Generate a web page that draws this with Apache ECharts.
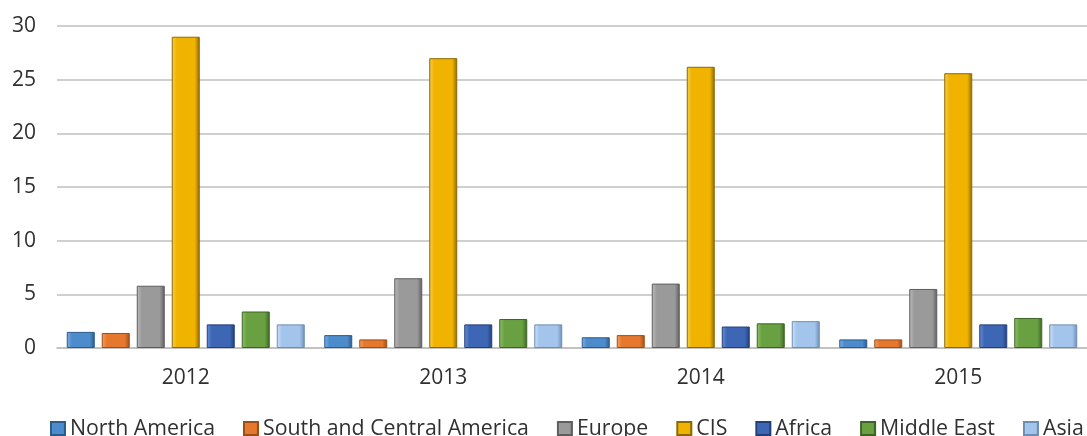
<!DOCTYPE html>
<html>
<head>
<meta charset="utf-8">
<script src="https://cdn.jsdelivr.net/npm/echarts@6/dist/echarts.min.js"></script>
<style>html,body{margin:0;padding:0;background:#fff;}#c{width:1087px;height:436px;}</style>
</head>
<body>
<div id="c"></div>
<script>
const years = ['2012', '2013', '2014', '2015'];
const seriesNames = ['North America', 'South and Central America', 'Europe', 'CIS', 'Africa', 'Middle East', 'Asia'];
const northAmerica = [1.5, 1.2, 1.0, 0.8];
const southCentralAmerica = [1.4, 0.8, 1.2, 0.8];
const europe = [5.8, 6.5, 6.0, 5.5];
const cis = [29.0, 27.0, 26.2, 25.6];
const africa = [2.2, 2.2, 2.0, 2.2];
const middleEast = [3.4, 2.7, 2.3, 2.8];
const asia = [2.2, 2.2, 2.5, 2.2];
const yTicks = [0, 5, 10, 15, 20, 25, 30];

const values = [northAmerica, southCentralAmerica, europe, cis, africa, middleEast, asia];
const baseColors = ['#4d8ccc', '#e6782e', '#9a9a9a', '#f0b400', '#3d66b5', '#69a042', '#a3c5ec'];
const darkColors = ['#2c5a8a', '#9c4e18', '#5e5e5e', '#8c6800', '#223f78', '#3d6424', '#6d8db4'];
const lightColors = ['#7fb2e4', '#f5a066', '#bdbdbd', '#f8d050', '#6a90d8', '#90c468', '#cfe2f8'];

function grad(i) {
  return new echarts.graphic.LinearGradient(0, 0, 1, 0, [
    {offset: 0, color: lightColors[i]},
    {offset: 0.18, color: baseColors[i]},
    {offset: 0.82, color: baseColors[i]},
    {offset: 1, color: darkColors[i]}
  ]);
}

const chart = echarts.init(document.getElementById('c'), null, {renderer: 'canvas'});
const font = 'Open Sans';
chart.setOption({
  animation: false,
  backgroundColor: '#ffffff',
  grid: {left: 57, right: -4, top: 26, bottom: 88, containLabel: false},
  xAxis: {
    type: 'category',
    data: years,
    axisLine: {show: true, lineStyle: {color: '#bfbfbf', width: 1.5}},
    axisTick: {show: false},
    axisLabel: {color: '#303030', fontSize: 21, fontFamily: font, margin: 20}
  },
  yAxis: {
    type: 'value',
    min: yTicks[0],
    max: yTicks[yTicks.length - 1],
    interval: 5,
    axisLine: {show: false},
    axisTick: {show: false},
    splitLine: {lineStyle: {color: '#bfbfbf', width: 1.5}},
    axisLabel: {color: '#303030', fontSize: 21, fontFamily: font, margin: 21}
  },
  legend: {
    left: 45,
    top: 413,
    width: 1100,
    itemWidth: 14,
    itemHeight: 13,
    itemGap: 28,
    icon: 'rect',
    textStyle: {color: '#303030', fontSize: 21.3, fontFamily: font},
    data: seriesNames
  },
  series: seriesNames.map((name, i) => ({
    name: name,
    type: 'bar',
    data: values[i],
    barWidth: 28,
    barGap: '25%',
    itemStyle: {
      color: grad(i),
      borderColor: darkColors[i],
      borderWidth: 1
    }
  }))
});
</script>
</body>
</html>
